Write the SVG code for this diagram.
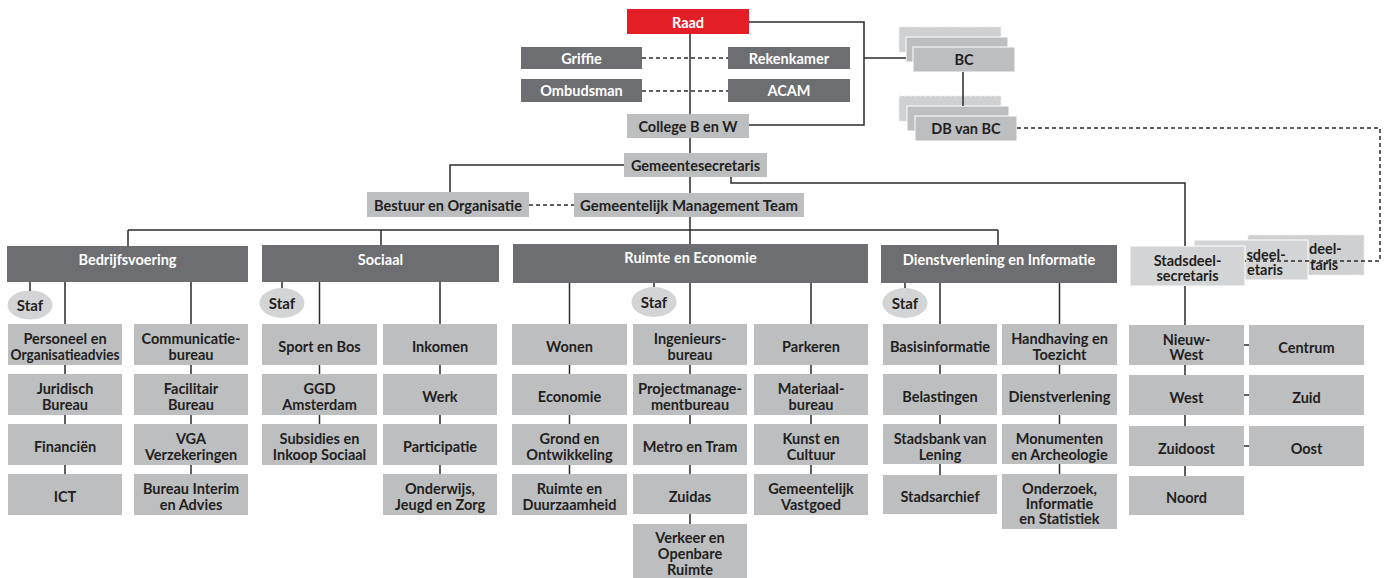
<svg xmlns="http://www.w3.org/2000/svg" width="1386" height="578" viewBox="0 0 1386 578">
<style>
text{font-family:Lato,"Noto Sans",sans-serif;font-weight:700;font-size:14.5px;text-anchor:middle}
.t{fill:#231f20}
.w{fill:#ffffff}
.f{font-size:15px}
.a{text-anchor:start}
.r{fill:#e31e26}
.d{fill:#6d6e71}
.l{fill:#bcbec0}
.s{fill:#d3d4d6}
.bk{fill:#cfd0d2;stroke:#eeeeee;stroke-width:1.2;stroke-dasharray:3 2}
.st{fill:#bcbec0;stroke:#ffffff;stroke-width:1}
.sd{fill:#d3d4d6;stroke:#ffffff;stroke-width:1}
.ln{fill:none;stroke:#2b2b2b;stroke-width:1.5}
.da{fill:none;stroke:#2b2b2b;stroke-width:1.5;stroke-dasharray:4 3}
</style>
<g id="nodes">
<g id="raad"><rect class="r" x="627" y="9" width="122" height="25"/><text class="w" x="688" y="28">Raad</text></g>
<g id="griffie"><rect class="d" x="521" y="47" width="121" height="22"/><text class="w" x="581.5" y="63.5">Griffie</text></g>
<g id="rekenkamer"><rect class="d" x="728" y="47" width="122" height="22"/><text class="w" x="789" y="63.5">Rekenkamer</text></g>
<g id="ombudsman"><rect class="d" x="521" y="79" width="121" height="23"/><text class="w" x="581.5" y="96">Ombudsman</text></g>
<g id="acam"><rect class="d" x="728" y="79" width="122" height="23"/><text class="w" x="789" y="96">ACAM</text></g>
<g id="college"><rect class="l" x="627" y="114" width="122" height="24"/><text class="t" x="688" y="131.5">College B en W</text></g>
<g id="bc">
<rect class="bk" x="899" y="27" width="102" height="25"/>
<rect class="st" x="906" y="37" width="102" height="25"/>
<rect class="st" x="913" y="47" width="102" height="25"/>
<text class="t" x="964" y="65">BC</text></g>
<g id="dbvanbc">
<rect class="bk" x="899" y="96" width="102" height="25"/>
<rect class="st" x="907" y="106" width="102" height="25"/>
<rect class="st" x="915" y="116" width="102" height="25"/>
<text class="t" x="966" y="134">DB van BC</text></g>
<g id="gemeentesecretaris"><rect class="l" x="624" y="153" width="143" height="24"/><text class="t" x="695.5" y="171">Gemeentesecretaris</text></g>
<g id="bestuur"><rect class="l" x="367" y="192" width="162" height="25"/><text class="t" x="448" y="210.5">Bestuur en Organisatie</text></g>
<g id="gmt"><rect class="l" x="574" y="193" width="230" height="24"/><text class="t" x="689" y="211" textLength="218" lengthAdjust="spacingAndGlyphs">Gemeentelijk Management Team</text></g>

<g id="bedrijfsvoering"><rect class="d" x="7" y="246" width="241" height="36"/><text class="w" x="127.5" y="265">Bedrijfsvoering</text></g>
<g id="sociaal"><rect class="d" x="262" y="245" width="237" height="37"/><text class="w" x="380.5" y="264.5">Sociaal</text></g>
<g id="ruimte"><rect class="d" x="513" y="244" width="355" height="39"/><text class="w" x="690.5" y="263">Ruimte en Economie</text></g>
<g id="dienstverlening"><rect class="d" x="881" y="245" width="236" height="38"/><text class="w" x="999" y="264.5">Dienstverlening en Informatie</text></g>

<g id="staf-b"><ellipse class="s" cx="30" cy="305" rx="22.5" ry="14.5"/><text class="t f" x="30" y="310.5">Staf</text></g>
<g id="staf-s"><ellipse class="s" cx="282" cy="303" rx="22.5" ry="15"/><text class="t f" x="282" y="308.5">Staf</text></g>
<g id="staf-r"><ellipse class="s" cx="654" cy="302" rx="22.5" ry="15"/><text class="t f" x="654" y="307.5">Staf</text></g>
<g id="staf-d"><ellipse class="s" cx="905" cy="303" rx="22.5" ry="15"/><text class="t f" x="905" y="308.5">Staf</text></g>

<g id="personeel"><rect class="l" x="8" y="324" width="114" height="41"/><text class="t" x="65" y="344">Personeel en</text><text class="t" x="65" y="359.5" textLength="109" lengthAdjust="spacingAndGlyphs">Organisatieadvies</text></g>
<g id="juridisch"><rect class="l" x="8" y="374" width="114" height="41"/><text class="t" x="65" y="394">Juridisch</text><text class="t" x="65" y="409.5">Bureau</text></g>
<g id="financien"><rect class="l" x="8" y="424" width="114" height="41"/><text class="t" x="65" y="452">Financiën</text></g>
<g id="ict"><rect class="l" x="8" y="474" width="114" height="41"/><text class="t" x="65" y="502">ICT</text></g>

<g id="communicatie"><rect class="l" x="134" y="324" width="114" height="41"/><text class="t" x="191" y="344">Communicatie-</text><text class="t" x="191" y="359.5">bureau</text></g>
<g id="facilitair"><rect class="l" x="134" y="374" width="114" height="41"/><text class="t" x="191" y="394">Facilitair</text><text class="t" x="191" y="409.5">Bureau</text></g>
<g id="vga"><rect class="l" x="134" y="424" width="114" height="41"/><text class="t" x="191" y="444">VGA</text><text class="t" x="191" y="459.5">Verzekeringen</text></g>
<g id="interim"><rect class="l" x="134" y="474" width="114" height="41"/><text class="t" x="191" y="494">Bureau Interim</text><text class="t" x="191" y="509.5">en Advies</text></g>

<g id="sport"><rect class="l" x="262" y="324" width="115" height="41"/><text class="t" x="319.5" y="352">Sport en Bos</text></g>
<g id="ggd"><rect class="l" x="262" y="374" width="115" height="41"/><text class="t" x="319.5" y="394">GGD</text><text class="t" x="319.5" y="409.5">Amsterdam</text></g>
<g id="subsidies"><rect class="l" x="262" y="424" width="115" height="41"/><text class="t" x="319.5" y="444">Subsidies en</text><text class="t" x="319.5" y="459.5">Inkoop Sociaal</text></g>

<g id="inkomen"><rect class="l" x="383" y="324" width="114" height="41"/><text class="t" x="440" y="352">Inkomen</text></g>
<g id="werk"><rect class="l" x="383" y="374" width="114" height="41"/><text class="t" x="440" y="402">Werk</text></g>
<g id="participatie"><rect class="l" x="383" y="424" width="114" height="41"/><text class="t" x="440" y="452">Participatie</text></g>
<g id="onderwijs"><rect class="l" x="383" y="474" width="114" height="41"/><text class="t" x="440" y="494">Onderwijs,</text><text class="t" x="440" y="509.5">Jeugd en Zorg</text></g>

<g id="wonen"><rect class="l" x="512" y="324" width="115" height="41"/><text class="t" x="569.5" y="352">Wonen</text></g>
<g id="economie"><rect class="l" x="512" y="374" width="115" height="41"/><text class="t" x="569.5" y="402">Economie</text></g>
<g id="grond"><rect class="l" x="512" y="424" width="115" height="41"/><text class="t" x="569.5" y="444">Grond en</text><text class="t" x="569.5" y="459.5">Ontwikkeling</text></g>
<g id="duurzaamheid"><rect class="l" x="512" y="474" width="115" height="41"/><text class="t" x="569.5" y="494">Ruimte en</text><text class="t" x="569.5" y="509.5">Duurzaamheid</text></g>

<g id="ingenieurs"><rect class="l" x="633" y="324" width="114" height="41"/><text class="t" x="690" y="344">Ingenieurs-</text><text class="t" x="690" y="359.5">bureau</text></g>
<g id="projectmanagement"><rect class="l" x="633" y="374" width="114" height="41"/><text class="t" x="690" y="394" textLength="104" lengthAdjust="spacingAndGlyphs">Projectmanage-</text><text class="t" x="690" y="409.5">mentbureau</text></g>
<g id="metro"><rect class="l" x="633" y="424" width="114" height="41"/><text class="t" x="690" y="452">Metro en Tram</text></g>
<g id="zuidas"><rect class="l" x="633" y="474" width="114" height="40"/><text class="t" x="690" y="501.5">Zuidas</text></g>
<g id="verkeer"><rect class="l" x="633" y="524" width="114" height="54"/><text class="t" x="690" y="543">Verkeer en</text><text class="t" x="690" y="559">Openbare</text><text class="t" x="690" y="575">Ruimte</text></g>

<g id="parkeren"><rect class="l" x="754" y="324" width="114" height="41"/><text class="t" x="811" y="352">Parkeren</text></g>
<g id="materiaal"><rect class="l" x="754" y="374" width="114" height="41"/><text class="t" x="811" y="394">Materiaal-</text><text class="t" x="811" y="409.5">bureau</text></g>
<g id="kunst"><rect class="l" x="754" y="424" width="114" height="41"/><text class="t" x="811" y="444">Kunst en</text><text class="t" x="811" y="459.5">Cultuur</text></g>
<g id="vastgoed"><rect class="l" x="754" y="474" width="114" height="41"/><text class="t" x="811" y="494">Gemeentelijk</text><text class="t" x="811" y="509.5">Vastgoed</text></g>

<g id="basisinformatie"><rect class="l" x="883" y="324" width="114" height="41"/><text class="t" x="940" y="352">Basisinformatie</text></g>
<g id="belastingen"><rect class="l" x="883" y="374" width="114" height="41"/><text class="t" x="940" y="402">Belastingen</text></g>
<g id="stadsbank"><rect class="l" x="883" y="424" width="114" height="40"/><text class="t" x="940" y="444">Stadsbank van</text><text class="t" x="940" y="459.5">Lening</text></g>
<g id="stadsarchief"><rect class="l" x="883" y="475" width="114" height="39"/><text class="t" x="940" y="502">Stadsarchief</text></g>

<g id="handhaving"><rect class="l" x="1002" y="324" width="115" height="41"/><text class="t" x="1059.5" y="344">Handhaving en</text><text class="t" x="1059.5" y="359.5">Toezicht</text></g>
<g id="dienstverlening-afd"><rect class="l" x="1002" y="374" width="115" height="41"/><text class="t" x="1059.5" y="402">Dienstverlening</text></g>
<g id="monumenten"><rect class="l" x="1002" y="424" width="115" height="40"/><text class="t" x="1059.5" y="444">Monumenten</text><text class="t" x="1059.5" y="459.5">en Archeologie</text></g>
<g id="onderzoek"><rect class="l" x="1002" y="474" width="115" height="55"/><text class="t" x="1059.5" y="494">Onderzoek,</text><text class="t" x="1059.5" y="509">Informatie</text><text class="t" x="1059.5" y="524">en Statistiek</text></g>

<g id="stadsdeelsecretaris">
<rect class="bk" x="1248" y="235" width="116" height="40"/>
<text class="t a" x="1309" y="254">deel-</text><text class="t a" x="1310" y="269.5">taris</text>
<rect class="sd" x="1194" y="240" width="114" height="40"/>
<text class="t a" x="1246.5" y="259.5">sdeel-</text><text class="t a" x="1247" y="275">etaris</text>
<rect class="sd" x="1130" y="246" width="115" height="40"/>
<text class="t" x="1187.5" y="265.5">Stadsdeel-</text><text class="t" x="1187.5" y="281">secretaris</text>
</g>

<g id="nieuwwest"><rect class="l" x="1129" y="325" width="115" height="40"/><text class="t" x="1186.5" y="344.5">Nieuw-</text><text class="t" x="1186.5" y="360">West</text></g>
<g id="west"><rect class="l" x="1129" y="375" width="115" height="40"/><text class="t" x="1186.5" y="402.5">West</text></g>
<g id="zuidoost"><rect class="l" x="1129" y="426" width="115" height="40"/><text class="t" x="1186.5" y="453.5">Zuidoost</text></g>
<g id="noord"><rect class="l" x="1129" y="476" width="115" height="39"/><text class="t" x="1186.5" y="503">Noord</text></g>
<g id="centrum"><rect class="l" x="1249" y="325" width="115" height="40"/><text class="t" x="1306.5" y="352.5">Centrum</text></g>
<g id="zuid"><rect class="l" x="1249" y="375" width="115" height="40"/><text class="t" x="1306.5" y="402.5">Zuid</text></g>
<g id="oost"><rect class="l" x="1249" y="426" width="115" height="40"/><text class="t" x="1306.5" y="453.5">Oost</text></g>
</g>

<g id="connectors">
<path class="ln" d="M690 34V114M690 138V153M690 177V193M690 217V230M128 230H998M128 230V246M381 230V245M690 230V244M998 230V245"/>
<path class="ln" d="M749 22H864V125H749M864 58H906M963 72V106"/>
<path class="da" d="M642 58H728M642 91H728M529 205H574"/>
<path class="da" d="M1017 128H1380V261H1245"/>
<path class="ln" d="M624 165H450V192M731 177V183H1185V246"/>
<path class="ln" d="M1185 286V325M1185 365V375M1185 415V426M1185 466V476M1244 345H1249M1244 395H1249M1244 446H1249"/>
<path class="ln" d="M30 282V291M282 282V288M654 283V287M905 283V288"/>
<path class="ln" d="M65 282V324M65 365V374M65 415V424M65 465V474M191 282V324M191 365V374M191 415V424M191 465V474"/>
<path class="ln" d="M319.5 282V324M319.5 365V374M319.5 415V424M440 282V324M440 365V374M440 415V424M440 465V474"/>
<path class="ln" d="M569.5 283V324M569.5 365V374M569.5 415V424M569.5 465V474M690 283V324M690 365V374M690 415V424M690 465V474M690 514V524M811 283V324M811 365V374M811 415V424M811 465V474"/>
<path class="ln" d="M940 283V324M940 365V374M940 415V424M940 464V475M1059.5 283V324M1059.5 365V374M1059.5 415V424M1059.5 464V474"/>
</g>
</svg>
